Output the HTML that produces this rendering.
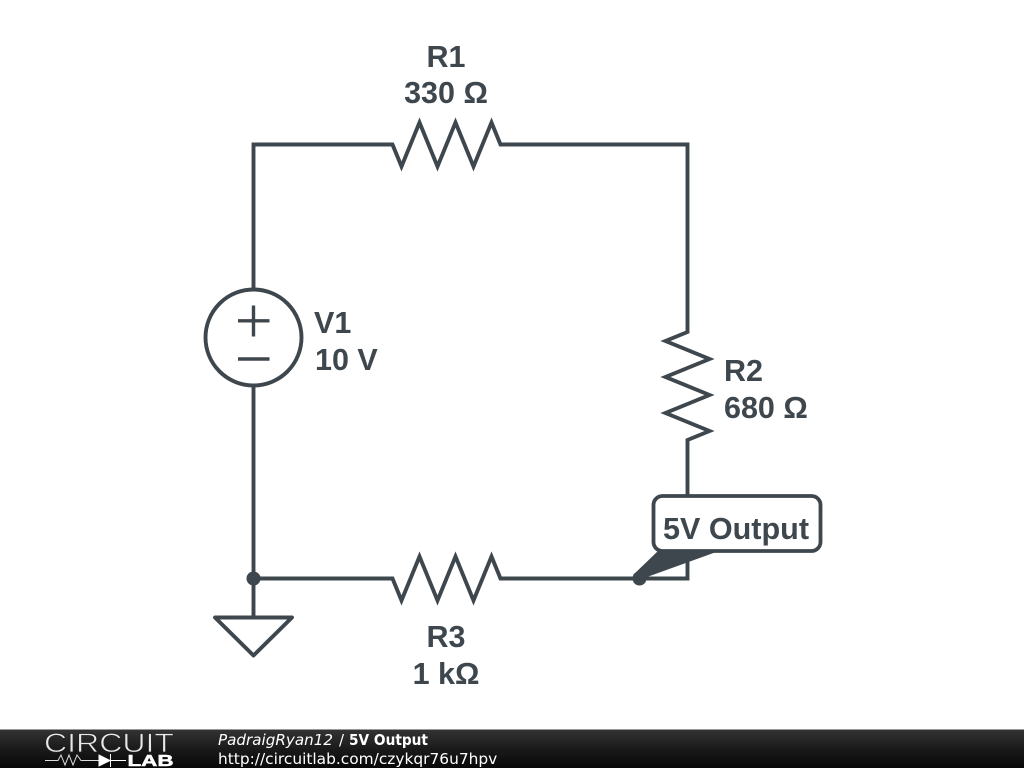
<!DOCTYPE html>
<html><head><meta charset="utf-8"><style>html,body{margin:0;padding:0;background:#fff;width:1024px;height:768px;overflow:hidden}svg{display:block}</style></head>
<body>
<svg width="1024" height="768" viewBox="0 0 1024 768" xmlns="http://www.w3.org/2000/svg">
<defs><linearGradient id="g" x1="0" y1="0" x2="0" y2="1"><stop offset="0" stop-color="#333"/><stop offset="0.5" stop-color="#1a1a1a"/><stop offset="1" stop-color="#080808"/></linearGradient></defs>
<rect width="1024" height="768" fill="#fff"/>
<g fill="none" stroke="#3e474d" stroke-width="3.900" stroke-linejoin="miter" stroke-miterlimit="10">
<path d="M253.500 288V144.500H392.500L401.500 166.500L419.500 122.500L437.500 166.500L455.500 122.500L473.500 166.500L491.500 122.500L500.500 144.500H687.500V332L665.500 341L709.500 359L665.500 377L709.500 395L665.500 413L709.500 431L687.500 440V578.500H500.500L491.500 556.500L473.500 600.500L455.500 556.500L437.500 600.500L419.500 556.500L401.500 600.500L392.500 578.500H253.500"/>
<path d="M253.500 386V617"/>
<circle cx="253.500" cy="337.500" r="48"/>
<path d="M238 320.800H269.500M253.500 305.500V336.500M238 359H269.500" stroke-width="3.400"/>
<path d="M215 617.500H292L253.500 655.500Z" stroke-linejoin="round"/>
</g>
<circle cx="253.500" cy="578.500" r="7" fill="#3e474d"/>
<circle cx="639.500" cy="578.500" r="7" fill="#3e474d"/>
<polygon points="658,551 719,551 647,577 640,582 633,575" fill="#3e474d"/>
<rect x="653.500" y="496" width="167" height="55" rx="9" fill="#fff" stroke="#3e474d" stroke-width="3.800"/>
<g font-family="'Liberation Sans',sans-serif" font-weight="700" font-size="30.500" fill="#3e474d">
<text x="446" y="67" text-anchor="middle">R1</text>
<text x="446" y="103" text-anchor="middle">330 Ω</text>
<text x="314" y="333">V1</text>
<text x="315" y="370">10 V</text>
<text x="724" y="381">R2</text>
<text x="724" y="418">680 Ω</text>
<text x="446" y="647" text-anchor="middle">R3</text>
<text x="446" y="684" text-anchor="middle">1 kΩ</text>
<text x="736" y="539" text-anchor="middle" textLength="146" lengthAdjust="spacingAndGlyphs">5V Output</text>
</g>
<rect x="0" y="730" width="1024" height="38" fill="url(#g)"/>
<rect x="0" y="729" width="1024" height="1" fill="#999"/>
<text x="44" y="752" font-family="'Liberation Sans',sans-serif" font-size="26.500" fill="#e8e8e8" stroke="#222" stroke-width="0.700" paint-order="fill stroke" textLength="130" lengthAdjust="spacingAndGlyphs">CIRCUIT</text>
<text x="127.500" y="766" font-family="'Liberation Sans',sans-serif" font-weight="700" font-size="15.500" fill="#fff" stroke="#fff" stroke-width="0.500" textLength="46" lengthAdjust="spacingAndGlyphs">LAB</text>
<path d="M45 760.500H58L61 755L65 765L69 755L73 765L77 755L81 760.500H99" fill="none" stroke="#ddd" stroke-width="1"/>
<path d="M99 755V766L110 760.500ZM110.500 754V767M111 760.500H126" fill="#fff" stroke="#fff" stroke-width="1"/>
<g font-family="'DejaVu Sans',sans-serif" fill="#fff">
<text x="218" y="745" font-size="15" font-style="italic" textLength="115" lengthAdjust="spacingAndGlyphs">PadraigRyan12</text>
<text x="339" y="745" font-size="15">/</text>
<text x="349" y="745" font-size="15" font-weight="700" textLength="79" lengthAdjust="spacingAndGlyphs">5V Output</text>
<text x="218" y="764" font-size="15.400">http://circuitlab.com/czykqr76u7hpv</text>
</g>
</svg>
</body></html>
